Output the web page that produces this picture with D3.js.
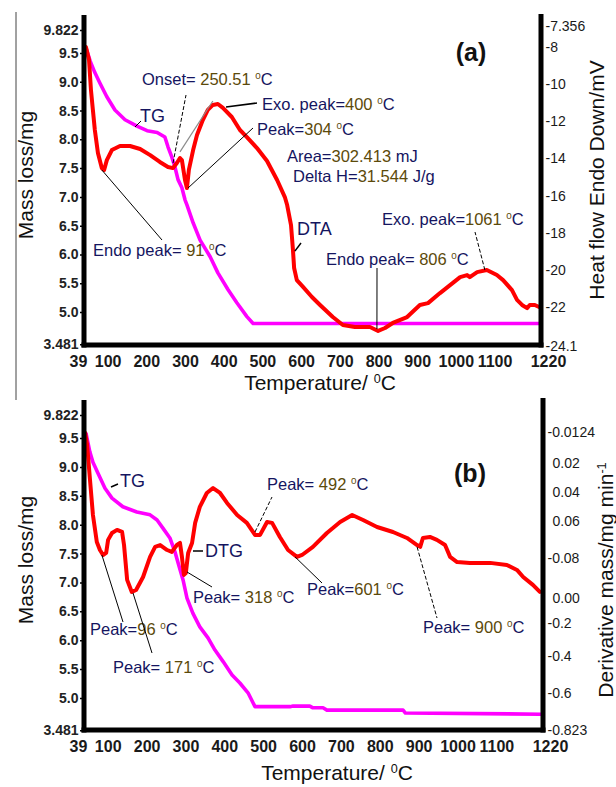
<!DOCTYPE html>
<html><head><meta charset="utf-8">
<script src="https://cdn.jsdelivr.net/npm/d3@7"></script>
<style>body{margin:0;background:#fff} svg{display:block}</style>
</head><body>
<svg id="c" width="616" height="787"></svg>
<script>
// ---------------- DATA ----------------
const tempTicks = [39,100,200,300,400,500,600,700,800,900,1000,1100,1220];
const massTickVals = [4.44,5.0,5.5,6.0,6.5,7.0,7.5,8.0,8.5,9.0,9.5,9.9];
const massTickLabels = ["3.481","5.0","5.5","6.0","6.5","7.0","7.5","8.0","8.5","9.0","9.5","9.822"];
const dtaTickVals = [-24.1,-22,-20,-18,-16,-14,-12,-10,-8,-6.85];
const dtaTickLabels = ["-24.1","-22","-20","-18","-16","-14","-12","-10","-8","-7.356"];
const dtgTickVals = [-0.823,-0.607,-0.392,-0.2,-0.054,0.179,0.394,0.563,0.732,0.913];
const dtgTickLabels = ["-0.823","-0.6","-0.4","-0.2","0.00","-0.08","0.06","0.04","0.02","-0.0124"];

// Panel (a) TG
const tgATemp = [44,55,67,80,98,119,145,176,202,228,248,256,266,274,282,292,300,305,321,339,365,385,411,434,460,476,1218];
const tgAMass = [9.59,9.36,9.16,8.98,8.74,8.51,8.34,8.23,8.15,8.12,8.04,7.87,7.69,7.52,7.30,7.16,6.95,6.86,6.55,6.25,5.96,5.68,5.39,5.16,4.92,4.80,4.80];
// Panel (a) DTA
const dtaTemp = [44,52,57,62,67,75,85,91,98,111,132,158,184,210,235,256,269,279,287,292,300,305,310,321,331,346,359,372,385,398,421,442,460,486,512,538,558,564,574,579,582,589,605,628,649,682,708,739,778,799,817,837,874,907,928,959,985,1011,1029,1036,1055,1080,1106,1122,1145,1158,1171,1184,1191,1204,1215];
const dtaVal = [-8.00,-8.70,-10.32,-11.39,-12.47,-13.71,-14.52,-14.62,-14.09,-13.55,-13.33,-13.33,-13.49,-13.82,-14.19,-14.46,-14.52,-14.25,-13.98,-14.09,-15.16,-15.59,-14.62,-13.55,-12.74,-11.93,-11.39,-11.12,-11.07,-11.28,-11.77,-12.47,-12.85,-13.44,-14.14,-15.16,-16.08,-16.51,-17.59,-18.93,-19.90,-20.55,-20.92,-21.46,-21.89,-22.54,-22.97,-23.08,-23.08,-23.29,-23.13,-22.86,-22.54,-21.89,-21.79,-21.25,-20.82,-20.39,-20.28,-20.39,-20.12,-20.01,-20.28,-20.55,-21.09,-21.62,-21.89,-22.06,-21.89,-21.89,-22.00];
// Panel (b) TG
const tgBTemp = [44,54,62,75,93,111,139,175,209,227,242,260,273,281,294,304,319,337,358,376,397,420,440,461,479,569,577,620,628,654,664,860,866,1215];
const tgBMass = [9.59,9.26,9.08,8.89,8.63,8.46,8.31,8.22,8.17,8.08,7.94,7.77,7.53,7.34,7.04,6.73,6.47,6.23,6.04,5.83,5.63,5.40,5.26,5.09,4.85,4.85,4.86,4.86,4.83,4.83,4.79,4.79,4.74,4.72];
// Panel (b) DTG
const dtgTemp = [42,47,54,62,72,80,88,96,101,111,124,137,142,150,162,173,191,209,222,235,253,265,278,286,291,296,301,307,317,325,337,355,371,389,407,433,458,479,492,510,523,543,564,587,600,628,664,698,729,757,793,834,870,896,904,911,929,947,968,981,999,1032,1084,1127,1153,1169,1194,1212];
const dtgVal = [0.907,0.837,0.645,0.429,0.272,0.225,0.196,0.208,0.284,0.324,0.342,0.330,0.254,0.051,-0.019,-0.008,0.068,0.185,0.243,0.254,0.225,0.214,0.254,0.266,0.185,0.080,0.091,0.208,0.266,0.383,0.476,0.557,0.586,0.557,0.499,0.429,0.383,0.313,0.313,0.388,0.383,0.301,0.225,0.185,0.196,0.243,0.324,0.388,0.429,0.400,0.359,0.330,0.295,0.254,0.243,0.295,0.301,0.284,0.254,0.185,0.155,0.150,0.150,0.138,0.109,0.068,0.022,-0.019];

// ---------------- STYLE / LAYOUT ----------------
const FONT = "'Liberation Sans', Arial, Helvetica, sans-serif";
const RED = "#ff0000", MAG = "#ff00ff";
const LETTER = "#15155f", DIGIT = "#5c4a0a";
const SUP_SIZE = 0.6, SUP_RAISE = 0.34;
const svg = d3.select("#c").attr("font-family", FONT);

function rich(g, x, y, str, size, opt) {
  opt = opt || {};
  const t = g.append("text").attr("x", x).attr("y", y).attr("font-size", size)
    .style("white-space", "pre").attr("fill", opt.fill || "#111");
  if (opt.anchor) t.attr("text-anchor", opt.anchor);
  if (opt.transform) t.attr("transform", opt.transform).attr("x", 0).attr("y", 0);
  const parts = str.split(/(\[[^\]]*\])/).filter(s => s.length);
  let raised = false;
  parts.forEach(p => {
    const sup = p.startsWith("[");
    const s = sup ? p.slice(1, -1) : p;
    const runs = opt.color ? s.split(/(\d[\d.]*)/).filter(r => r.length) : [s];
    runs.forEach((r, i) => {
      const ts = t.append("tspan").text(r);
      if (opt.color) ts.attr("fill", /^\d/.test(r) ? DIGIT : LETTER);
      if (sup) {
        ts.attr("font-size", size * SUP_SIZE);
        if (i === 0) ts.attr("dy", -size * SUP_RAISE);
      } else if (i === 0 && raised) ts.attr("dy", size * SUP_RAISE);
    });
    raised = sup;
  });
  return t;
}

function panel(cfg) {
  const g = svg.append("g");
  const x = d3.scaleLinear().domain([39, 1220]).range([cfg.left, cfg.right]);
  const yM = d3.scaleLinear().domain([5.0, 9.5]).range(cfg.massRange);
  const yS = d3.scaleLinear().domain(cfg.secDomain).range(cfg.secRange);

  const ax = g.append("g").attr("transform", `translate(0,${cfg.bottom})`)
    .call(d3.axisBottom(x).tickValues(tempTicks).tickSize(0).tickPadding(10.5).tickFormat(d3.format("d")));
  ax.select(".domain").remove();
  ax.attr("font-size", 16).attr("font-family", FONT).attr("font-weight", "bold");
  ax.selectAll("text").attr("fill", "#1a1a1a")
    .attr("dx", d => d === 39 ? -6 : (d === 1220 ? 7 : 0));

  const al = g.append("g").attr("transform", `translate(${cfg.left - 2},0)`)
    .call(d3.axisLeft(yM).tickValues(massTickVals).tickSize(2).tickPadding(1.5)
      .tickFormat((d, i) => massTickLabels[i]));
  al.select(".domain").remove();
  al.attr("font-size", 14).attr("font-family", FONT).attr("font-weight", "bold");
  al.selectAll("text").attr("fill", "#222");
  al.selectAll("line").attr("stroke", "#000").attr("stroke-width", 1.5);

  const ar = g.append("g").attr("transform", `translate(${cfg.right},0)`)
    .call(d3.axisRight(yS).tickValues(cfg.secTicks).tickSize(0)
      .tickFormat((d, i) => cfg.secLabels[i]));
  ar.select(".domain").remove();
  ar.attr("font-size", 14).attr("font-family", FONT);
  ar.selectAll("text").attr("fill", "#1a1a1a")
    .attr("x", (d, i) => cfg.secLabels[i].startsWith("-") ? 4.5 : 9.5);

  const lineM = d3.line().x(d => x(d[0])).y(d => yM(d[1]));
  const lineS = d3.line().x(d => x(d[0])).y(d => yS(d[1]));
  const tg = cfg.tgT.map((t, i) => [t, cfg.tgM[i]]);
  const sec = cfg.secT.map((t, i) => [t, cfg.secV[i]]);
  g.append("path").attr("d", lineM(tg)).attr("fill", "none").attr("stroke", MAG)
    .attr("stroke-width", 3.6).attr("stroke-linejoin", "round");
  g.append("path").attr("d", lineS(sec)).attr("fill", "none").attr("stroke", RED)
    .attr("stroke-width", 4).attr("stroke-linejoin", "round").attr("stroke-linecap", "round");

  g.append("line").attr("x1", cfg.left).attr("x2", cfg.left).attr("y1", cfg.top).attr("y2", cfg.bottom + 2.5)
    .attr("stroke", "#000").attr("stroke-width", 5);
  g.append("line").attr("x1", cfg.left - 2.5).attr("x2", cfg.right + 2.5).attr("y1", cfg.bottom).attr("y2", cfg.bottom)
    .attr("stroke", "#000").attr("stroke-width", 5);
  g.append("line").attr("x1", cfg.right).attr("x2", cfg.right).attr("y1", cfg.rtop).attr("y2", cfg.bottom + 2.5)
    .attr("stroke", "#000").attr("stroke-width", 5);

  cfg.notes.forEach(n => {
    if (n.lead) {
      const p1 = n.lead.data ? [x(n.lead.data[0]), yS(n.lead.data[1])] : n.lead.p1;
      g.append("line").attr("x1", p1[0]).attr("y1", p1[1]).attr("x2", n.lead.p2[0]).attr("y2", n.lead.p2[1])
        .attr("stroke", n.lead.color || "#000").attr("stroke-width", n.lead.w || 1)
        .attr("stroke-dasharray", n.lead.dash ? "4,2" : null);
    }
    if (n.text) rich(g, n.tx, n.ty, n.text, n.size || 16.5, { color: true });
  });
  (cfg.extraLines || []).forEach(l => {
    g.append("line").attr("x1", x(l[0][0])).attr("y1", yS(l[0][1])).attr("x2", x(l[1][0])).attr("y2", yS(l[1][1]))
      .attr("stroke", "#8c8c8c").attr("stroke-width", 1.2);
  });

  rich(g, 0, 0, "Temperature/ [0]C", 21, { anchor: "middle", transform: `translate(${cfg.xTitle[0]},${cfg.xTitle[1]})` });
  rich(g, 0, 0, "Mass loss/mg", 21, { anchor: "middle", transform: `translate(33,${cfg.lTitleY}) rotate(-90)` });
  rich(g, 0, 0, cfg.rTitle, 21, { anchor: "middle", transform: `translate(${cfg.rTitlePos[0]},${cfg.rTitlePos[1]}) rotate(-90)` });
  g.append("text").attr("x", cfg.tag[0]).attr("y", cfg.tag[1]).attr("text-anchor", "middle")
    .attr("font-size", 25).attr("font-weight", "bold").attr("fill", "#111").text(cfg.tagText);
}

svg.append("line").attr("x1", 16).attr("x2", 16).attr("y1", 12).attr("y2", 400)
  .attr("stroke", "#444").attr("stroke-width", 1);

panel({
  left: 84, right: 541, top: 15, rtop: 14, bottom: 345,
  massRange: [312, 53], secDomain: [-22, -8], secRange: [307, 47],
  secTicks: dtaTickVals, secLabels: dtaTickLabels,
  tgT: tgATemp, tgM: tgAMass, secT: dtaTemp, secV: dtaVal,
  xTitle: [320, 390], lTitleY: 175, rTitle: "Heat flow Endo Down/mV", rTitlePos: [604, 180],
  tag: [471, 61], tagText: "(a)",
  extraLines: [[[287, -13.65], [372, -10.91]]],
  notes: [
    { text: "Onset= 250.51 [0]C", tx: 142, ty: 85, lead: { data: [269, -14.25], p2: [186, 95], dash: true } },
    { text: "TG", tx: 140, ty: 122, size: 18, lead: { p1: [135, 127], p2: [141, 121] } },
    { text: "Exo. peak=400 [0]C", tx: 262, ty: 110, lead: { data: [406, -11.23], p2: [257, 103], w: 1.5 } },
    { text: "Peak=304 [0]C", tx: 257, ty: 135, lead: { data: [308, -15.59], p2: [253, 128] } },
    { text: "Area=302.413 mJ", tx: 287, ty: 162 },
    { text: "Delta H=31.544 J/g", tx: 293, ty: 182 },
    { text: "DTA", tx: 297, ty: 235, size: 18, lead: { data: [584, -18.99], p2: [301, 243], w: 1.5 } },
    { text: "Endo peak= 806 [0]C", tx: 326, ty: 265, lead: { data: [796, -23.19], p2: [377, 268] } },
    { text: "Exo. peak=1061 [0]C", tx: 382, ty: 225, lead: { data: [1075, -20.01], p2: [475, 232], dash: true } },
    { text: "Endo peak= 91 [0]C", tx: 93, ty: 256, lead: { data: [85, -14.62], p2: [162, 240] } }
  ]
});

panel({
  left: 84, right: 543, top: 400, rtop: 398, bottom: 730,
  massRange: [698, 438], secDomain: [-0.823, -0.2], secRange: [730, 623],
  secTicks: dtgTickVals, secLabels: dtgTickLabels,
  tgT: tgBTemp, tgM: tgBMass, secT: dtgTemp, secV: dtgVal,
  xTitle: [337, 780], lTitleY: 560, rTitle: "Derivative mass/mg min[-1]", rTitlePos: [613, 580],
  tag: [470, 482], tagText: "(b)",
  notes: [
    { text: "TG", tx: 120, ty: 487, size: 18, lead: { p1: [111, 487], p2: [118, 484], w: 1.5 } },
    { text: "DTG", tx: 205, ty: 557, size: 18, lead: { p1: [193, 551], p2: [203, 551], w: 1.5 } },
    { text: "Peak= 492 [0]C", tx: 267, ty: 490, lead: { data: [479, 0.330], p2: [272, 497], dash: true } },
    { text: "Peak=601 [0]C", tx: 307, ty: 595, lead: { data: [582, 0.185], p2: [322, 583] } },
    { text: "Peak= 318 [0]C", tx: 193, ty: 603, lead: { data: [304, 0.097], p2: [212, 587] } },
    { text: "Peak= 900 [0]C", tx: 423, ty: 633, lead: { data: [896, 0.243], p2: [437, 618], dash: true } },
    { text: "Peak=96 [0]C", tx: 90, ty: 635, lead: { data: [85, 0.196], p2: [123, 622] } },
    { text: "Peak= 171 [0]C", tx: 113, ty: 673, lead: { data: [165, -0.025], p2: [152, 653] } }
  ]
});
</script>
</body></html>
